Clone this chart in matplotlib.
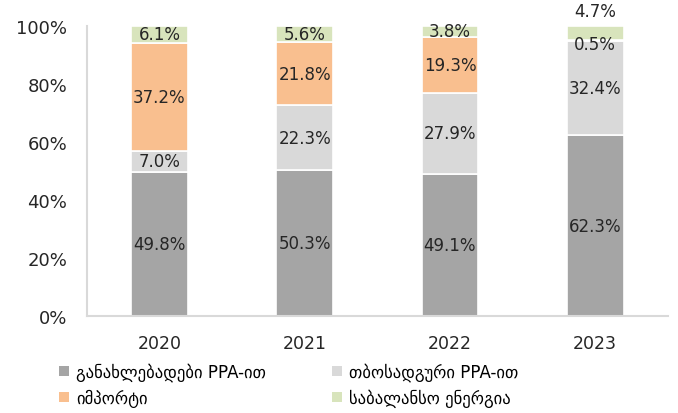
import matplotlib
matplotlib.use("Agg")
import matplotlib.pyplot as plt
from matplotlib.patches import Patch
import numpy as np

years = ["2020", "2021", "2022", "2023"]
renewable = [49.8, 50.3, 49.1, 62.3]
thermal = [7.0, 22.3, 27.9, 32.4]
imports = [37.2, 21.8, 19.3, 0.5]
balance = [6.1, 5.6, 3.8, 4.7]
series_names = ["განახლებადები PPA-ით", "თბოსადგური PPA-ით", "იმპორტი", "საბალანსო ენერგია"]
colors = ["#A5A5A5", "#D9D9D9", "#F9BF8F", "#D8E4BC"]

plt.rcParams['font.family'] = ['DejaVu Sans']

fig = plt.figure(figsize=(6.78, 4.14), dpi=100)
ax = fig.add_axes([0.128, 0.234, 0.857, 0.701])

x = np.arange(len(years))
w = 0.39
bottom = np.zeros(len(years))
series = [renewable, thermal, imports, balance]
for vals, c in zip(series, colors):
    vals = np.array(vals)
    ax.bar(x, vals, w, bottom=bottom, color=c, edgecolor="white", linewidth=1.2, zorder=2)
    for i, v in enumerate(vals):
        yc = bottom[i] + v / 2
        if i == 3 and c == colors[2]:
            yc = bottom[i] - 1.0
        if i == 3 and c == colors[3]:
            yc = 105.2
        ax.text(x[i], yc, f"{v:.1f}%", ha="center", va="center", fontsize=12,
                color="#262626", zorder=3)
    bottom = bottom + vals

ax.set_xlim(-0.5, 3.5)
ax.set_ylim(0, 100)
ax.set_yticks(np.arange(0, 101, 20))
ax.set_yticklabels([f"{t}%" for t in range(0, 101, 20)], fontsize=13, color="#262626")
ax.set_xticks(x)
ax.set_xticklabels(years, fontsize=12.5, color="#262626")
ax.tick_params(length=0)
ax.tick_params(axis='x', pad=13)
ax.tick_params(axis='y', pad=14)
for s in ["top", "right"]:
    ax.spines[s].set_visible(False)
for s in ["left", "bottom"]:
    ax.spines[s].set_color("#D9D9D9")
    ax.spines[s].set_linewidth(1.5)

order = [0, 2, 1, 3]
handles = [Patch(facecolor=colors[k], edgecolor="none") for k in order]
labels = [series_names[k] for k in order]
fig.legend(handles, labels, loc="lower left", bbox_to_anchor=(0.065, -0.022), ncol=2,
           frameon=False, fontsize=12, handlelength=0.6, handleheight=0.6,
           handletextpad=0.4, columnspacing=4.0, labelspacing=0.45)

fig.savefig("out.png", dpi=100)
